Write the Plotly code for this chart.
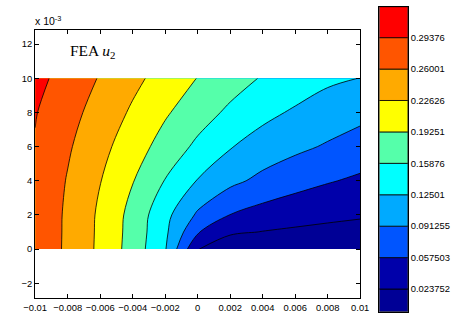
import plotly.graph_objects as go

# ---- data ----
x_grid = [-0.010, -0.008, -0.006, -0.004, -0.002, 0.0, 0.002, 0.004, 0.006, 0.008, 0.010]
y_grid = [0.0, 0.001, 0.002, 0.004, 0.006, 0.008, 0.010]
u2_y0 = [0.2870, 0.2537, 0.2196, 0.1786, 0.1274, 0.0250, 0.0007, 0.0012, 0.0012, 0.0013, 0.0015]
u2_y1 = [0.2871, 0.2541, 0.2202, 0.1802, 0.1314, 0.0603, 0.0288, 0.0227, 0.0187, 0.0160, 0.0141]
u2_y2 = [0.2873, 0.2544, 0.2209, 0.1817, 0.1348, 0.0862, 0.0569, 0.0442, 0.0362, 0.0306, 0.0268]
u2_y4 = [0.2885, 0.2579, 0.2272, 0.1939, 0.1574, 0.1234, 0.0994, 0.0828, 0.0699, 0.0599, 0.0521]
u2_y6 = [0.2916, 0.2640, 0.2365, 0.2079, 0.1795, 0.1518, 0.1270, 0.1104, 0.0985, 0.0879, 0.0766]
u2_y8 = [0.2955, 0.2714, 0.2470, 0.2215, 0.1964, 0.1738, 0.1522, 0.1339, 0.1206, 0.1097, 0.1008]
u2_y10 = [0.3036, 0.2807, 0.2577, 0.2348, 0.2128, 0.1916, 0.1737, 0.1560, 0.1440, 0.1307, 0.1245]

levels = [0.023752, 0.057503, 0.091255, 0.12501, 0.15876, 0.19251, 0.22626, 0.26001, 0.29376]
level_labels = ["0.023752", "0.057503", "0.091255", "0.12501", "0.15876",
                "0.19251", "0.22626", "0.26001", "0.29376"]
u2_min = -0.0006
u2_max = 0.3270
band_colors = ["rgb(0,0,150)", "rgb(0,0,170)", "rgb(0,85,255)", "rgb(0,170,255)",
               "rgb(0,255,255)", "rgb(85,255,170)", "rgb(255,255,0)", "rgb(255,170,0)",
               "rgb(255,85,0)", "rgb(255,0,0)"]

x_ticks = [-0.01, -0.008, -0.006, -0.004, -0.002, 0, 0.002, 0.004, 0.006, 0.008, 0.01]
x_ticklabels = ["\u22120.01", "\u22120.008", "\u22120.006", "\u22120.004", "\u22120.002", "0",
                "0.002", "0.004", "0.006", "0.008", "0.01"]
y_ticks = [-0.002, 0, 0.002, 0.004, 0.006, 0.008, 0.010, 0.012]
y_ticklabels = ["\u22122", "0", "2", "4", "6", "8", "10", "12"]

title_text = "FEA <i>u</i><sub>2</sub>"
exp_text = "x 10<sup>-3</sup>"

# ---- build ----
z = [u2_y0, u2_y1, u2_y2, u2_y4, u2_y6, u2_y8, u2_y10]
n = len(band_colors)
colorscale = []
for j, c in enumerate(band_colors):
    lo = 0.0 if j == 0 else (j - 0.5) / (n - 1)
    hi = 1.0 if j == n - 1 else (j + 0.5) / (n - 1)
    colorscale += [[lo, c], [hi, c]]

step = (levels[-1] - levels[0]) / (len(levels) - 1)

fig = go.Figure()
fig.add_trace(go.Contour(
    x=x_grid, y=y_grid, z=z,
    contours=dict(start=levels[0], end=levels[-1] + 1e-9, size=step,
                  coloring="fill", showlines=True),
    line=dict(color="black", width=0.8, smoothing=1),
    colorscale=colorscale, showscale=False, hoverinfo="skip",
))

bounds = [u2_min] + levels + [u2_max]
fig.add_trace(go.Bar(
    x=[0] * n, y=[bounds[i + 1] - bounds[i] for i in range(n)], base=bounds[:-1],
    width=1, marker=dict(color=band_colors, line=dict(color="black", width=0.8)),
    xaxis="x2", yaxis="y2", hoverinfo="skip", showlegend=False,
))

tickfont = dict(family="Liberation Sans, Arial, sans-serif", size=9.4, color="black")
fig.update_layout(
    width=456, height=324, margin=dict(l=0, r=0, t=0, b=0),
    paper_bgcolor="white", plot_bgcolor="white", showlegend=False, barmode="overlay",
    xaxis=dict(domain=[24.3 / 456, 365 / 456], range=[-0.01, 0.01],
               tickvals=x_ticks, ticktext=x_ticklabels, ticks="inside", ticklen=4,
               tickcolor="black", showline=True, linecolor="black", linewidth=1,
               mirror="ticks", showgrid=False, zeroline=False, tickfont=tickfont),
    yaxis=dict(domain=[(324 - 298.3) / 324, (324 - 30) / 324], range=[-0.00288, 0.01283],
               tickvals=y_ticks, ticktext=y_ticklabels, ticks="inside", ticklen=4,
               tickcolor="black", showline=True, linecolor="black", linewidth=1,
               mirror="ticks", showgrid=False, zeroline=False, tickfont=tickfont),
    xaxis2=dict(domain=[385 / 456, 415 / 456], range=[-0.5, 0.5], anchor="y2",
                showticklabels=False, ticks="", showline=True, linecolor="black",
                linewidth=1, mirror=True, showgrid=False, zeroline=False),
    yaxis2=dict(domain=[(324 - 311.7) / 324, (324 - 6.7) / 324], range=[u2_min, u2_max],
                anchor="x2", side="right", tickvals=levels, ticktext=level_labels,
                ticks="", showline=True, linecolor="black", linewidth=1, mirror=True,
                showgrid=False, zeroline=False, tickfont=tickfont),
    annotations=[
        dict(text=title_text, x=-0.00800, y=0.01155, xref="x", yref="y",
             showarrow=False, xanchor="left", yanchor="middle",
             font=dict(family="Liberation Serif, Times New Roman, serif", size=15.5, color="black")),
        dict(text=exp_text, x=22 / 456, y=1 - 20 / 324, xref="paper", yref="paper",
             showarrow=False, xanchor="left", yanchor="middle",
             font=dict(family="Liberation Sans, Arial, sans-serif", size=10.5, color="black")),
    ],
)

fig.write_html("out.html")
